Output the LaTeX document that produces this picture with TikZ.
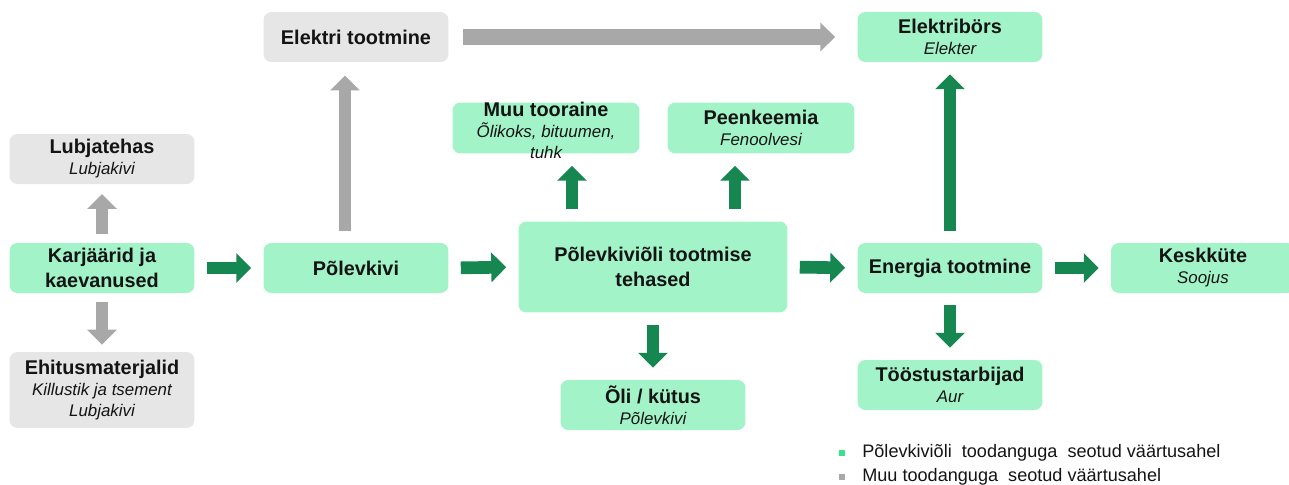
\documentclass[tikz,border=0pt]{standalone}
\usepackage{fontspec}
\setmainfont{Liberation Sans}
\usetikzlibrary{arrows.meta,calc}
\definecolor{boxgreen}{RGB}{163,243,200}
\definecolor{boxgray}{RGB}{230,230,230}
\definecolor{arrgreen}{RGB}{22,135,80}
\definecolor{arrgray}{RGB}{168,168,168}
\definecolor{leggreen}{RGB}{60,225,140}
\definecolor{txt}{RGB}{20,20,20}
\newcommand{\subtxt}[1]{{\normalfont\itshape\fontsize{9.6}{11.5}\selectfont #1}}

\begin{document}
\begin{tikzpicture}[x=0.02cm, y=-0.02cm,
    box/.style={rectangle, rounded corners=4.5pt, fill=#1, minimum width=3.7cm, minimum height=1cm, inner sep=1pt, align=center, text=txt, font=\fontsize{11.3}{12}\selectfont\bfseries},
    arr/.style={-{Triangle[length=8.5pt, width=16.5pt]}, line width=7.2pt, color=#1, shorten <=6.8pt, shorten >=6.8pt},
    legsq/.style={rectangle, fill=#1, minimum size=3.4pt, inner sep=0pt},
    legtxt/.style={anchor=west, inner sep=0pt, text=txt, font=\fontsize{10.3}{12}\selectfont}
]
\useasboundingbox (0,0) rectangle (1289,484);

% left column
\node[box=boxgray] (lubi) at (102,159) {Lubjatehas\\\subtxt{Lubjakivi}};
\node[box=boxgreen] (karj) at (102,268) {Karjäärid ja\\[2pt]kaevanused};
\node[box=boxgray, minimum height=1.52cm] (ehit) at (102,390) {Ehitusmaterjalid\\\subtxt{Killustik ja tsement}\\\subtxt{Lubjakivi}};

% oil shale
\node[box=boxgreen] (pk) at (356,268) {Põlevkivi};
\node[box=boxgray] (elek) at (356,37) {Elektri tootmine};

% oil plants
\node[box=boxgreen, minimum width=5.38cm, minimum height=1.82cm] (teh) at (653,267) {Põlevkiviõli tootmise\\[2pt]tehased};
\node[box=boxgreen, minimum width=3.74cm, minimum height=1.02cm] (muu) at (546,128) {};
\node[align=center, text=txt, inner sep=0pt, font=\fontsize{11.3}{12}\selectfont\bfseries] (muutxt) at (546,130) {Muu tooraine\\\subtxt{Õlikoks, bituumen,}\\\subtxt{tuhk}};
\node[box=boxgreen, minimum width=3.74cm, minimum height=1.02cm] (peen) at (761,128) {Peenkeemia\\\subtxt{Fenoolvesi}};
\node[box=boxgreen] (oli) at (653,405) {Õli / kütus\\\subtxt{Põlevkivi}};

% energy
\node[box=boxgreen] (ener) at (950,268) {Energia tootmine};
\node[box=boxgreen] (bors) at (950,37) {Elektribörs\\\subtxt{Elekter}};
\node[box=boxgreen] (tood) at (950,385) {Tööstustarbijad\\\subtxt{Aur}};
\node[box=boxgreen, minimum width=3.68cm] (kesk) at (1203,268) {Keskküte\\\subtxt{Soojus}};

% green arrows
\draw[arr=arrgreen] (karj.east) -- (pk.west);
\draw[arr=arrgreen] (pk.east) -- (teh.west);
\draw[arr=arrgreen] (teh.east) -- (ener.west);
\draw[arr=arrgreen] (ener.east) -- (kesk.west);
\draw[arr=arrgreen] ($(teh.north)+(-81,0)$) -- ($(muu.south)+(26,0)$);
\draw[arr=arrgreen] ($(teh.north)+(82,0)$) -- ($(peen.south)+(-26,0)$);
\draw[arr=arrgreen] (teh.south) -- (oli.north);
\draw[arr=arrgreen] (ener.north) -- (bors.north |- bors.south);
\draw[arr=arrgreen] (ener.south) -- (tood.north);

% gray arrows
\draw[arr=arrgray, shorten <=5pt, shorten >=5.5pt] (karj.north) -- (lubi.south);
\draw[arr=arrgray, shorten <=5pt, shorten >=4pt] (karj.south) -- (ehit.north);
\draw[arr=arrgray, shorten >=7.5pt] ($(pk.north)+(-11,0)$) -- ($(elek.south)+(-11,0)$);
\draw[arr=arrgray, line width=9pt, -{Triangle[length=8.5pt, width=16pt]}, shorten <=8pt, shorten >=12.5pt] (elek.east) -- (bors.west);

% legend
\node[legsq=leggreen] (lg1) at (842,453) {};
\node[legtxt] (lt1) at (862,453) {Põlevkiviõli\ \ toodanguga\ \ seotud väärtusahel};
\node[legsq=arrgray] (lg2) at (842,477) {};
\node[legtxt] (lt2) at (862,477) {Muu toodanguga\ \ seotud väärtusahel};
\end{tikzpicture}
\end{document}
